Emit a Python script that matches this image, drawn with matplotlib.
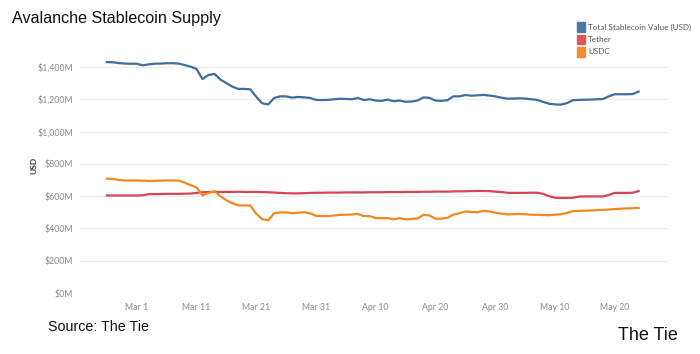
import matplotlib
matplotlib.use("Agg")
import matplotlib.pyplot as plt
import numpy as np
import datetime as dt

start_date = "2022-02-24"
total = [1430, 1429, 1424, 1421, 1420, 1420, 1410, 1416, 1420, 1421, 1423, 1423, 1421, 1412, 1402,
         1388, 1325, 1350, 1357, 1322, 1300, 1278, 1264, 1264, 1262, 1215, 1175, 1168, 1208, 1218,
         1218, 1210, 1214, 1212, 1208, 1196, 1195, 1196, 1200, 1203, 1202, 1200, 1208, 1195, 1200,
         1192, 1190, 1198, 1188, 1192, 1184, 1186, 1192, 1212, 1208, 1192, 1190, 1194, 1218, 1218,
         1226, 1222, 1224, 1227, 1223, 1218, 1210, 1204, 1204, 1206, 1204, 1200, 1196, 1184, 1172,
         1168, 1167, 1176, 1194, 1196, 1197, 1198, 1200, 1201, 1218, 1231, 1231, 1231, 1232, 1247]
tether = [604, 604, 604, 604, 604, 604, 605, 612, 613, 613, 614, 614, 614, 615, 616,
          620, 624, 625, 626, 626, 626, 626, 627, 626, 626, 626, 625, 624, 622, 620,
          618, 617, 617, 618, 620, 621, 621, 622, 622, 622, 623, 623, 623, 623, 624,
          624, 624, 625, 625, 625, 626, 626, 626, 627, 627, 628, 628, 628, 629, 630,
          630, 631, 632, 632, 631, 628, 625, 621, 620, 620, 620, 621, 621, 614, 600,
          590, 589, 589, 590, 597, 598, 598, 598, 598, 607, 620, 620, 620, 621, 631]
usdc = [708, 707, 700, 697, 697, 697, 696, 694, 695, 696, 697, 697, 696, 684, 668,
        654, 605, 620, 630, 600, 574, 556, 543, 542, 542, 490, 457, 450, 494, 499,
        499, 494, 498, 500, 494, 478, 476, 476, 480, 484, 485, 486, 490, 476, 476,
        464, 463, 464, 456, 464, 456, 458, 462, 484, 480, 460, 460, 466, 486, 494,
        505, 502, 500, 509, 505, 497, 492, 487, 488, 490, 488, 485, 484, 483, 482,
        485, 488, 496, 507, 509, 510, 511, 513, 515, 517, 520, 522, 524, 525, 527]
series_names = ["Total Stablecoin Value (USD)", "Tether", "USDC"]
colors = ["#3f6d9e", "#d94452", "#f0891f"]
legend_colors = ["#4e79a7", "#e15759", "#f28e2b"]
y_ticks = [0, 200, 400, 600, 800, 1000, 1200, 1400]
y_labels = ["$0M", "$200M", "$400M", "$600M", "$800M", "$1,000M", "$1,200M", "$1,400M"]
x_tick_dates = ["2022-03-01", "2022-03-11", "2022-03-21", "2022-03-31", "2022-04-10",
                "2022-04-20", "2022-04-30", "2022-05-10", "2022-05-20"]
x_labels = ["Mar 1", "Mar 11", "Mar 21", "Mar 31", "Apr 10", "Apr 20", "Apr 30", "May 10", "May 20"]

d0 = np.datetime64(start_date)
dates = (d0 + np.arange(len(total))).astype("datetime64[D]").astype(dt.datetime)

fig = plt.figure(figsize=(7.0, 3.54), dpi=100)
fig.patch.set_facecolor("white")
ax = fig.add_axes([80/700, 1 - 293/354, 588/700, 243.0/354])
ax.set_facecolor("white")

for vals, c in zip([total, tether, usdc], colors):
    ax.plot(dates, vals, color=c, lw=1.6, solid_joinstyle="round")

ax.set_ylim(0, 1505)
ax.set_xlim(dt.datetime(2022, 2, 19, 12), dt.datetime(2022, 5, 28, 22))
ax.set_yticks(y_ticks)
ax.set_yticklabels(y_labels)
ax.set_xticks([dt.datetime.strptime(s, "%Y-%m-%d") for s in x_tick_dates])
ax.set_xticklabels(x_labels)
for lab in ax.get_xticklabels() + ax.get_yticklabels():
    lab.set_fontfamily("Lato")
    lab.set_fontsize(6.3)
    lab.set_color("#8a8a8a")
ax.tick_params(length=0, pad=5)
ax.tick_params(axis="x", pad=7)
ax.grid(axis="y", color="#ededed", lw=0.8)
ax.set_axisbelow(True)
for s in ax.spines.values():
    s.set_visible(False)
ax.set_ylabel("USD", fontsize=6, fontweight="bold", family="Lato", color="#333333")
ax.yaxis.set_label_coords(-43/588, (293 - 165) / 243.0)

fig.text(12/700, 1 - 19/354, "Avalanche Stablecoin Supply", fontsize=11.6, family="Liberation Sans",
         color="#111111", va="center", ha="left")
fig.text(48/700, 1 - 327/354, "Source: The Tie", fontsize=10.3, family="Liberation Sans",
         color="#111111", va="center", ha="left")
fig.text(678/700, 1 - 335/354, "The Tie", fontsize=13, family="Liberation Sans",
         fontweight="medium", color="#111111", va="center", ha="right")

# legend
for i, (name, c) in enumerate(zip(series_names, legend_colors)):
    yc = 27 + i * 12.5
    fig.patches.append(plt.Rectangle((577/700, 1 - (yc + 4.5)/354), 8/700, 9/354,
                                     transform=fig.transFigure, color=c, figure=fig))
    fig.text(588/700, 1 - yc/354, name, fontsize=5.9, family="Lato", color="#555555",
             va="center", ha="left")

fig.savefig("out.png", dpi=100, facecolor="white")
